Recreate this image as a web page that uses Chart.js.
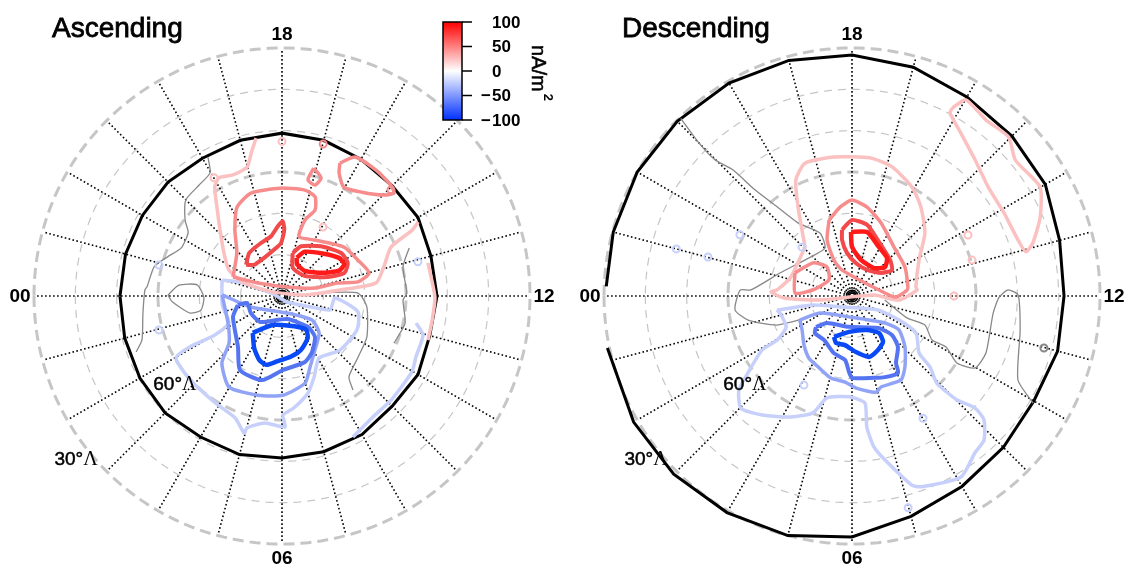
<!DOCTYPE html>
<html>
<head>
<meta charset="utf-8">
<title>Ascending / Descending</title>
<script src="https://cdn.jsdelivr.net/npm/chart.js@4.4.1/dist/chart.umd.min.js"></script>
<style>
  html, body { margin: 0; padding: 0; background: #fff; }
  #wrap { position: relative; width: 1125px; height: 571px; overflow: hidden; }
  canvas { position: absolute; top: 0; }
  #asc { left: 0; }
  #desc { left: 570px; }
</style>
</head>
<body>
<div id="wrap">
  <canvas id="asc" width="570" height="571"></canvas>
  <canvas id="desc" width="555" height="571"></canvas>
</div>
<script>
// grid and axis values
const hourTicks = [0, 6, 12, 18];
const hourTickLabels = ['00', '06', '12', '18'];
const latRings = [80, 70, 60, 50, 40, 30];
const latRingsMajor = [60, 30];
const latRingLabels = ['60°', '30°'];
const colorbarTicks = [100, 50, 0, -50, -100];

// contour lines, every point is [MLT (h), magnetic latitude (deg)]
// --- Ascending ---
const ascBoundary = [[0,50.8],[1,50.6],[2,50.3],[3,50.0],[4,50.6],[5,50.3],[6,50.8],[7,51.0],[8,51.3],[9,52.3],[10,52.0],[11,53.0],[12,52.5],[13,52.7],[14,52.0],[15,52.3],[16,51.8],[17,51.0],[18,50.6],[19,51.0],[20,51.5],[21,51.0],[22,51.0],[23,50.8],[0,50.8]];
const ascPos80 = [[16.6,80.1],[16.2,78.0],[15.1,75.8],[14.25,73.4],[13.8,73.1],[13.6,74.9],[14.0,78.8],[15.2,81.8],[16.3,81.5]];
const ascPos60 = [[17.07,79.3],[16.6,77.1],[15.46,74.7],[14.4,72.3],[13.78,72.2],[13.35,73.9],[13.5,78.0],[14.8,82.7],[16.6,82.7]];
const ascPos60b = [[21.27,78.5],[20.48,76.9],[19.44,76.2],[18.69,75.3],[18.23,73.1],[17.97,71.9],[17.87,73.9],[18.07,77.2],[18.63,78.6],[19.67,79.8],[20.77,79.9]];
const ascPos40 = [[22.59,77.3],[21.09,74.9],[20.37,70.4],[19.79,65.9],[19.12,64.0],[18.07,63.9],[17.19,63.8],[16.77,64.7],[16.6,67.7],[16.88,70.8],[16.93,75.1],[15.97,74.3],[14.55,70.9],[13.69,69.7],[12.99,68.2],[12.7,71.3],[12.89,76.3],[12.9,81.8],[16.07,87.5],[22.1,83.4]];
const ascPos40b = [[16.43,54.9],[16.15,52.0],[15.55,52.0],[15.03,52.4],[14.84,53.2],[14.98,55.3],[15.49,58.3],[16.03,59.7],[16.34,57.2]];
const ascPos40c = [[17.07,58.1],[16.78,59.9],[16.89,62.0],[17.16,61.2]];
const ascPos20 = [[18.62,51.3],[18.81,54.6],[19.01,57.7],[19.47,58.4],[19.87,57.6],[20.11,59.0],[20.41,63.3],[20.88,68.1],[21.56,72.5],[22.26,75.7],[22.73,80.3],[22.5,87.4],[12.17,84.4],[12.39,75.9],[12.53,67.0],[13.06,64.4],[13.61,61.1],[13.79,54.7],[13.9,52.5]];
const ascPos20b = [[12.85,53.8],[11.97,53.0],[11.39,53.2],[10.88,53.1]];
const ascNeg80 = [[3.44,78.6],[4.07,81.2],[5.0,82.8],[7.47,82.1],[8.37,80.0],[8.1,78.1],[7.3,76.2],[6.57,75.2],[5.75,74.2],[5.13,72.9],[4.69,73.6],[4.13,75.7]];
const ascNeg60 = [[0.77,79.1],[0.75,81.4],[1.93,81.4],[3.33,81.8],[6.82,84.3],[8.67,80.2],[8.59,77.3],[7.88,74.6],[7.28,73.1],[6.05,72.1],[5.11,69.1],[4.03,69.4],[3.28,73.7],[1.55,77.1]];
const ascNeg40 = [[23.93,75.5],[1.3,82.0],[7.1,85.7],[9.42,80.7],[9.0,77.3],[8.09,74.7],[7.43,71.5],[6.99,68.2],[6.04,66.0],[5.09,65.3],[3.99,64.5],[3.21,68.2],[2.77,72.9],[1.77,75.4]];
const ascNeg20 = [[23.0,75.0],[22.77,79.3],[22.8,83.6],[23.1,87.8],[8.67,88.1],[10.6,82.7],[10.93,77.9],[11.86,77.2],[11.21,71.2],[10.37,70.1],[9.13,70.8],[8.05,72.5],[7.44,68.9],[7.0,65.7],[6.41,62.8],[6.03,61.2],[6.09,58.3],[5.49,59.0],[5.01,57.0],[4.97,55.6],[4.6,58.4],[3.87,59.5],[2.83,59.9],[2.02,60.3],[1.93,64.6],[2.01,71.2],[1.8,75.6],[0.6,75.4],[23.43,75.3]];
const ascNeg20b = [[11.24,56.9],[10.97,54.6],[10.37,54.4],[9.98,53.6],[9.09,53.5],[8.47,53.4],[7.78,51.8]];
const ascZeroA = [[19.87,51.9],[20.02,55.5],[20.45,56.5],[21.0,57.1],[21.46,60.2],[21.73,62.6],[22.3,63.0],[22.73,60.8],[23.13,58.3],[23.73,57.3],[23.83,56.8],[0.47,56.1],[1.16,54.5],[1.4,52.2]];
const ascZeroB = [[23.97,62.4],[23.6,64.9],[23.5,69.3],[0.07,71.1],[0.66,70.1],[0.7,67.4],[0.2,63.4]];
const ascZeroC = [[12.31,81.0],[12.15,71.6],[11.51,69.3],[10.28,67.2],[9.42,66.4],[8.64,64.6],[8.47,61.5]];
const ascZeroD = [[13.38,57.1],[12.9,59.9],[12.09,59.8],[11.87,60.7],[11.17,59.5],[10.48,60.6]];
const ascDotsPos40 = [[16.99,51.9],[14.95,53.2]];
const ascDotsPos20 = [[19.99,57.0],[15.95,70.6],[18.0,52.6]];
const ascDotsNeg20 = [[23.06,59.3],[12.94,56.1],[1.03,59.1]];

// --- Descending ---
const descBoundary = [[23.85,30.5],[23,30.2],[22,30.0],[21,30.2],[20,30.5],[19,31.0],[18,31.7],[17,32.7],[16,34.4],[15,35.3],[14,36.0],[13,38.0],[12,38.7],[11,38.5],[10,39.2],[9,38.2],[8,36.8],[7,34.8],[6,31.7],[5,30.0],[4,29.5],[3,29.0],[2,29.0],[0.8,29.5]];
const descPos80 = [[18.06,74.5],[17.12,74.1],[16.07,76.5],[15.16,77.5],[14.75,79.4],[15.45,81.4],[17.07,81.0],[18.0,78.1]];
const descPos60 = [[18.57,73.8],[18.0,71.6],[17.2,72.4],[16.34,75.1],[14.9,77.3],[14.2,78.5],[14.56,81.0],[16.0,82.7],[17.53,82.0],[18.44,79.5],[18.67,76.2]];
const descPos40 = [[19.12,70.8],[18.51,68.3],[18.0,66.8],[17.36,68.2],[16.55,71.0],[15.29,74.4],[13.91,75.4],[12.61,76.3],[12.41,76.6],[11.91,79.4],[12.35,82.0],[19.4,83.3],[19.78,80.3],[19.6,75.2]];
const descPos40b = [[22.53,75.1],[21.32,77.6],[20.72,80.7],[21.68,83.2],[23.42,80.4],[23.8,76.2]];
const descPos20 = [[20.92,73.6],[20.08,64.8],[19.72,58.8],[19.3,55.9],[18.49,56.1],[17.5,56.3],[16.85,57.3],[16.08,59.9],[15.48,62.8],[14.72,66.7],[13.88,71.6],[12.53,74.4],[12.35,74.2],[11.67,78.6],[12.17,84.7],[0.47,82.2],[0.11,73.5],[23.81,70.4],[23.69,71.8],[22.85,74.5]];
const descPos20b = [[16.13,38.5],[15.99,35.1],[15.51,36.5],[15.03,36.0],[14.65,38.6],[14.01,37.4],[13.52,40.6],[13.09,44.4],[12.95,46.6],[13.24,47.6],[13.91,48.1],[14.58,47.8],[15.19,45.6],[15.75,42.6],[16.12,39.8]];
const descNeg80 = [[4.42,79.2],[5.68,81.3],[7.59,81.0],[8.41,78.9],[8.27,76.6],[7.71,75.5],[7.04,74.7],[6.27,76.4],[5.46,78.0],[4.75,78.0]];
const descNeg60 = [[2.71,78.5],[3.15,81.1],[5.63,82.5],[8.61,80.0],[9.05,76.5],[8.8,73.4],[8.22,70.6],[8.06,68.3],[7.48,68.8],[7.0,69.5],[6.0,70.2],[5.85,71.6],[5.59,74.4],[4.83,75.5],[3.83,77.4],[3.0,77.3]];
const descNeg40 = [[1.65,76.1],[1.87,81.2],[5.47,84.9],[9.38,79.7],[9.61,76.0],[9.07,72.2],[8.45,68.6],[8.02,66.5],[7.18,66.9],[6.93,66.0],[6.17,67.7],[5.69,69.1],[5.04,69.5],[4.29,71.0],[3.69,71.7],[3.04,73.4],[2.28,75.4]];
const descNeg20 = [[0.71,71.5],[0.87,80.3],[3.2,86.4],[10.11,82.9],[10.2,77.2],[10.0,72.1],[9.31,68.7],[9.18,64.5],[8.95,60.6],[9.02,54.2],[9.18,49.8],[9.12,46.2],[8.83,42.7],[8.54,41.8],[8.07,38.9],[7.33,40.9],[7.17,42.0],[6.76,49.5],[6.55,53.1],[6.43,58.1],[6.46,63.9],[5.89,65.6],[5.08,64.6],[4.77,60.2],[4.21,57.2],[3.53,53.9],[3.02,51.8],[2.65,54.4],[2.43,58.7],[2.07,64.6],[2.03,69.0],[1.68,72.4],[0.89,72.1]];
const descZeroA = [[20.93,30.3],[21.0,37.6],[21.01,43.3],[20.89,48.1],[20.83,55.2],[20.67,61.8],[20.43,68.0],[19.8,72.9],[19.96,76.7],[21.23,76.1],[22.82,71.7],[23.77,65.5],[23.8,62.9],[0.45,61.5],[0.87,64.2],[1.41,70.5],[1.71,77.7]];
const descZeroB = [[11.54,82.0],[10.55,75.7],[10.55,71.0],[10.08,67.9],[10.1,64.1],[9.83,59.9],[9.98,55.5],[10.47,54.8],[11.54,55.6],[11.97,54.4],[12.15,52.2],[12.02,49.8],[11.24,48.5],[10.21,45.0],[9.96,39.1]];
const descDotsPos20 = [[13.85,58.3],[13.11,59.7],[12.0,65.3]];
const descDotsNeg20 = [[22.09,59.1],[22.99,53.9],[23.0,46.0],[21.04,73.1],[8.01,55.8],[6.99,37.0],[4.11,65.5]];
const descDotsZero = [[10.99,41.9]];

// label placement, [MLT, latitude]
const hourLabelLat = 26.6;
const ringLabelPos = [[2.65, 56.3], [2.57, 26.3]];

const levelStyle = {
  '80': ['#ff1a1a', 4.5], '60': ['#f24a4a', 4], '40': ['#f68c8c', 3.5], '20': ['#fbc0c0', 3.5],
  '-80': ['#0a4af6', 4.5], '-60': ['#5474f2', 4], '-40': ['#90a3f6', 3.5], '-20': ['#c6d0fb', 3.5],
  '0': ['#888888', 1.3]
};

const FONT = '"Liberation Sans", Arial, Helvetica, sans-serif';

// MLT 12 to the right, 18 up, pole in the middle; distance = colatitude
function proj(p) {
  const th = (p[0] - 12) * Math.PI / 12;
  const c = 90 - p[1];
  return { x: c * Math.cos(th), y: c * Math.sin(th) };
}

function ring(lat) {
  const pts = [];
  for (let i = 0; i <= 240; i++) pts.push(proj([i / 10, lat]));
  return pts;
}

function spokes() {
  const pts = [];
  for (let h = 0; h < 24; h++) {
    pts.push(proj([h, 89.2]), proj([h, 30.4]), { x: null, y: null });
  }
  return pts;
}

function lineSet(points, level, closed) {
  const st = levelStyle[String(level)];
  const data = points.map(proj);
  if (closed) data.push(proj(points[0]));
  return {
    data: data, showLine: true, pointRadius: 0, borderColor: st[0], borderWidth: st[1],
    tension: 0.2, fill: false, order: 1 + (100 - Math.abs(level)) / 100
  };
}

function dotSet(points, level) {
  const st = levelStyle[String(level)];
  return {
    data: points.map(proj), showLine: false, pointRadius: 3.5, pointBorderWidth: 2,
    pointBorderColor: st[0], pointBackgroundColor: 'rgba(0,0,0,0)', order: 1
  };
}

function gridSets(boundary) {
  const sets = [];
  latRings.forEach(lat => {
    const major = latRingsMajor.includes(lat);
    sets.push({
      data: ring(lat), showLine: true, pointRadius: 0, borderColor: '#c6c6c6',
      borderWidth: major ? 3 : 1.2, borderDash: major ? [11, 6] : [8, 6], order: 10
    });
  });
  sets.push({ data: spokes(), showLine: true, pointRadius: 0, borderColor: '#000', borderWidth: 1.6, borderDash: [1.6, 2.4], order: 9 });
  [89.3, 88.6].forEach(lat => {
    sets.push({ data: ring(lat), showLine: true, pointRadius: 0, borderColor: '#000', borderWidth: 1.3, order: 9 });
  });
  sets.push({ data: boundary.map(proj), showLine: true, pointRadius: 0, borderColor: '#000', borderWidth: 3, order: 3 });
  return sets;
}

function drawColorbar(ctx) {
  const x = 443, y = 22, w = 19, h = 98;
  const g = ctx.createLinearGradient(0, y, 0, y + h);
  g.addColorStop(0, '#ff0000');
  g.addColorStop(0.5, '#ffffff');
  g.addColorStop(1, '#0030ff');
  ctx.fillStyle = g;
  ctx.fillRect(x, y, w, h);
  ctx.strokeStyle = '#000';
  ctx.lineWidth = 1.5;
  ctx.strokeRect(x, y, w, h);
  ctx.fillStyle = '#000';
  ctx.font = 'bold 17px ' + FONT;
  ctx.textBaseline = 'middle';
  ctx.textAlign = 'left';
  colorbarTicks.forEach(v => {
    const ty = y + (100 - v) / 200 * h;
    ctx.beginPath();
    ctx.moveTo(x + w, ty);
    ctx.lineTo(x + w + 10, ty);
    ctx.stroke();
    ctx.fillText(String(Math.abs(v)), 492, ty + 1);
    if (v < 0) {
      const mw = ctx.measureText('\u2212').width;
      ctx.fillText('\u2212', 491 - mw, ty + 1);
    }
  });
  ctx.save();
  ctx.translate(532, 45);
  ctx.rotate(Math.PI / 2);
  ctx.textBaseline = 'alphabetic';
  ctx.font = '20px ' + FONT;
  ctx.fillText('nA/m', 0, 0);
  ctx.lineWidth = 0.5;
  ctx.strokeText('nA/m', 0, 0);
  const uw = ctx.measureText('nA/m').width;
  ctx.font = 'bold 13px ' + FONT;
  ctx.fillText('2', uw + 2, -12);
  ctx.restore();
}

function textPlugin(title, withColorbar) {
  return {
    id: 'polarText',
    afterDatasetsDraw(chart) {
      const ctx = chart.ctx;
      const sx = chart.scales.x, sy = chart.scales.y;
      const at = p => { const q = proj(p); return [sx.getPixelForValue(q.x), sy.getPixelForValue(q.y)]; };
      ctx.save();
      ctx.fillStyle = '#000';
      ctx.strokeStyle = '#000';
      ctx.font = '28px ' + FONT;
      ctx.textAlign = 'left';
      ctx.textBaseline = 'alphabetic';
      ctx.fillText(title, 52, 37);
      ctx.lineWidth = 0.8;
      ctx.strokeText(title, 52, 37);

      ctx.font = 'bold 19px ' + FONT;
      ctx.textAlign = 'center';
      ctx.textBaseline = 'middle';
      hourTicks.forEach((hh, i) => {
        const [x, y] = at([hh, hourLabelLat]);
        ctx.fillText(hourTickLabels[i], x, y + 1);
      });

      ctx.textAlign = 'left';
      ctx.lineWidth = 0.5;
      latRingLabels.forEach((t, i) => {
        const [x, y] = at(ringLabelPos[i]);
        ctx.font = '19px ' + FONT;
        const w1 = ctx.measureText(t).width;
        ctx.font = '20px "Liberation Serif", "Times New Roman", serif';
        const w2 = ctx.measureText('Λ').width;
        const x0 = x - (w1 + w2) / 2;
        ctx.font = '19px ' + FONT;
        ctx.fillText(t, x0, y);
        ctx.strokeText(t, x0, y);
        ctx.font = '20px "Liberation Serif", "Times New Roman", serif';
        ctx.fillText('Λ', x0 + w1, y);
      });
      if (withColorbar) drawColorbar(ctx);
      ctx.restore();
    }
  };
}

function makePanel(id, width, title, datasets, withColorbar) {
  const k = 248 / 60; // pixels per degree of colatitude
  const c = 282;      // pole position inside each canvas
  new Chart(document.getElementById(id), {
    type: 'scatter',
    data: { datasets: datasets },
    options: {
      responsive: false,
      animation: false,
      devicePixelRatio: 1,
      layout: { padding: 0, autoPadding: false },
      scales: {
        x: { type: 'linear', display: false, min: -c / k, max: (width - c) / k },
        y: { type: 'linear', display: false, min: -(571 - 296) / k, max: 296 / k }
      },
      plugins: { legend: { display: false }, tooltip: { enabled: false } }
    },
    plugins: [textPlugin(title, withColorbar)]
  });
}

const ascSets = gridSets(ascBoundary).concat([
  lineSet(ascPos20, 20, false), lineSet(ascPos20b, 20, false),
  lineSet(ascPos40, 40, true), lineSet(ascPos40b, 40, true), lineSet(ascPos40c, 40, true),
  lineSet(ascPos60, 60, true), lineSet(ascPos60b, 60, true), lineSet(ascPos80, 80, true),
  lineSet(ascNeg20, -20, true), lineSet(ascNeg20b, -20, false), lineSet(ascNeg40, -40, true),
  lineSet(ascNeg60, -60, true), lineSet(ascNeg80, -80, true),
  lineSet(ascZeroA, 0, false), lineSet(ascZeroB, 0, true), lineSet(ascZeroC, 0, false), lineSet(ascZeroD, 0, false),
  dotSet(ascDotsPos40, 40), dotSet(ascDotsPos20, 20), dotSet(ascDotsNeg20, -20)
]);

const descSets = gridSets(descBoundary).concat([
  lineSet(descPos20, 20, true), lineSet(descPos20b, 20, true),
  lineSet(descPos40, 40, true), lineSet(descPos40b, 40, true),
  lineSet(descPos60, 60, true), lineSet(descPos80, 80, true),
  lineSet(descNeg20, -20, true), lineSet(descNeg40, -40, true),
  lineSet(descNeg60, -60, true), lineSet(descNeg80, -80, true),
  lineSet(descZeroA, 0, false), lineSet(descZeroB, 0, false),
  dotSet(descDotsPos20, 20), dotSet(descDotsNeg20, -20), dotSet(descDotsZero, 0)
]);

makePanel('asc', 570, 'Ascending', ascSets, true);
makePanel('desc', 555, 'Descending', descSets, false);
</script>
</body>
</html>
